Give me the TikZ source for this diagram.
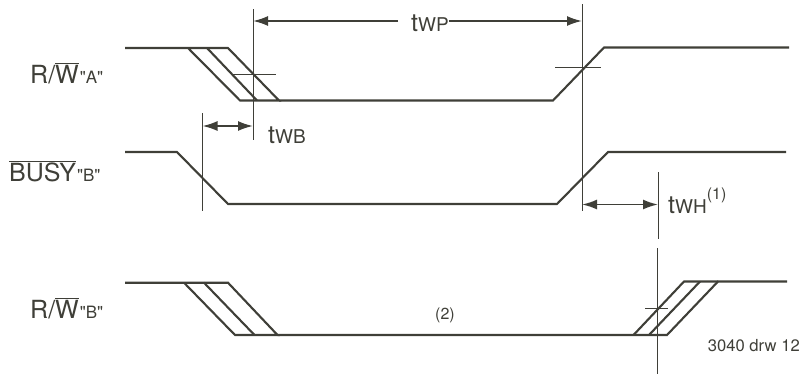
\documentclass[tikz,border=0pt]{standalone}
\usepackage{fontspec}
\setmainfont{TeX Gyre Heros}[Ligatures=TeXOff]
\usetikzlibrary{arrows.meta}
\definecolor{inkgrey}{HTML}{3F3F38}
\newcommand{\ovl}[1]{\ensuremath{\overline{\mbox{#1}}}}
\newcommand{\siglabel}[2]{{\fontsize{25}{25}\selectfont #1}{\kern1pt\fontsize{17}{17}\selectfont #2}}
\newcommand{\timelabel}[2]{{\fontsize{25}{25}\selectfont t}{\fontsize{19}{19}\selectfont #1}#2}
\tikzset{
    wave/.style={draw=inkgrey, line width=2.1pt, line join=miter},
    guide/.style={draw=inkgrey, line width=0.9pt},
    span/.style={draw=inkgrey, line width=1.8pt, {Latex[length=15pt,width=10pt]}-{Latex[length=15pt,width=10pt]}},
    spanend/.style={draw=inkgrey, line width=1.8pt, -{Latex[length=15pt,width=10pt]}},
    tag/.style={text=inkgrey, inner sep=0pt}
}
\begin{document}
\begin{tikzpicture}[x=1pt,y=-1pt]
    \useasboundingbox (0,0) rectangle (801,375);
    % R/W "A"
    \draw[wave] (125,48) -- (228,48) -- (279,100.5) -- (240,100.5) -- (188,48);
    \draw[wave] (207,48) -- (257,100.5);
    \draw[wave] (279,100.5) -- (553,100.5) -- (604,47.5) -- (789,47.5);
    \draw[guide] (231,74) -- (276,74);
    \draw[guide] (555,67) -- (601,67);
    \node[tag, anchor=base west] (rwa) at (30,83) {\siglabel{R/\ovl{W}}{"A"}};
    % BUSY "B"
    \draw[wave] (125,152) -- (177,152) -- (228,204) -- (557,204) -- (608,152) -- (786,152);
    \node[tag, anchor=base west] (busyb) at (9,181) {\siglabel{\ovl{BUSY}}{"B"}};
    % R/W "B"
    \draw[wave] (125,282.7) -- (228,282.7) -- (277.5,335) -- (235,335) -- (184,282.7);
    \draw[wave] (204,282.7) -- (254.5,335);
    \draw[wave] (277.5,335) -- (667,335) -- (718,281.5) -- (787,281.5);
    \draw[wave] (633.5,335) -- (684,281.5) -- (718,281.5);
    \draw[wave] (649,335) -- (700,281.5);
    \draw[guide] (645,308) -- (668,308);
    \node[tag, anchor=base west] (rwb) at (30,318) {\siglabel{R/\ovl{W}}{"B"}};
    % timing guides
    \coordinate (wpl) at (253,21);
    \coordinate (wpr) at (582,21);
    \coordinate (wbl) at (202.5,126);
    \coordinate (wbr) at (253,126);
    \coordinate (whl) at (582,204.5);
    \coordinate (whr) at (658,204.5);
    \draw[guide] (253,9) -- (253,140);
    \draw[guide] (582,4) -- (582,211);
    \draw[guide] (202.5,113) -- (202.5,211);
    \draw[guide] (658,172) -- (658,239);
    \draw[guide] (657,248) -- (657,374);
    % spans
    \node[tag, anchor=base west] (twp) at (411,31) {\timelabel{WP}{}};
    \coordinate (wpm) at (398,21);
    \draw[spanend] (wpm) -- (wpl);
    \draw[spanend] (twp.east |- wpr) -- (wpr);
    \draw[span] (wbl) -- (wbr);
    \draw[span] (whl) -- (whr);
    \node[tag, anchor=base west] (twb) at (268,143) {\timelabel{WB}{}};
    \node[tag, anchor=base west] (twh) at (668,213) {\timelabel{WH}{\raisebox{14pt}{\fontsize{16}{16}\selectfont (1)}}};
    % notes
    \node[tag, anchor=base west] (note) at (435,319) {\fontsize{16}{16}\selectfont (2)};
    \node[tag, anchor=base east] (drw) at (800,351) {\fontsize{16.6}{17}\selectfont 3040 drw 12};
\end{tikzpicture}
\end{document}
